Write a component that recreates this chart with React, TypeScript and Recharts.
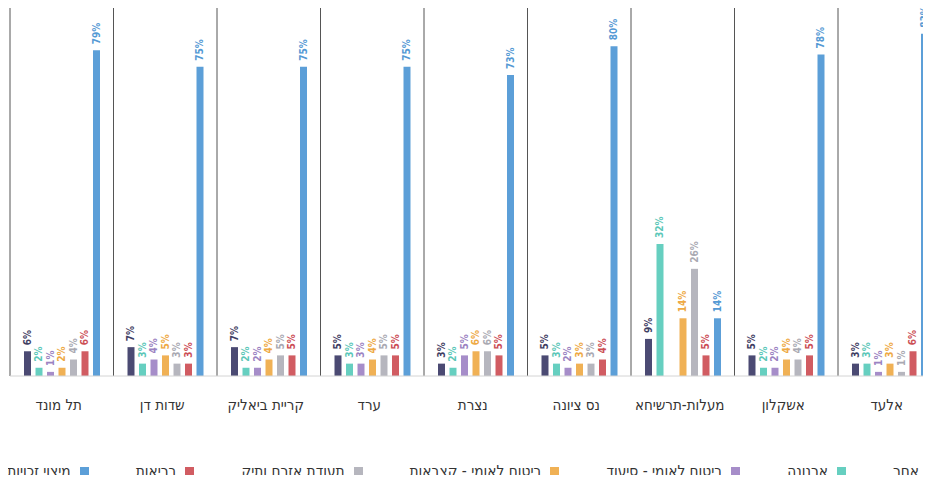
import React from 'react';
import { BarChart, Bar, XAxis, YAxis, CartesianGrid, LabelList } from 'recharts';

const cities = ['תל מונד', 'שדות דן', 'קריית ביאליק', 'ערד', 'נצרת', 'נס ציונה', 'מעלות-תרשיחא', 'אשקלון', 'אלעד'];
const other = [6, 7, 7, 5, 3, 5, 9, 5, 3];
const arnona = [2, 3, 2, 3, 2, 3, 32, 2, 3];
const siud = [1, 4, 2, 3, 5, 2, 0, 2, 1];
const kitzbaot = [2, 5, 4, 4, 6, 3, 14, 4, 3];
const vatik = [4, 3, 5, 5, 6, 3, 26, 4, 1];
const health = [6, 3, 5, 5, 5, 4, 5, 5, 6];
const rights = [79, 75, 75, 75, 73, 80, 14, 78, 83];

const seriesNames = ['אחר', 'ארנונה', 'ביטוח לאומי - סיעוד', 'ביטוח לאומי - קצבאות', 'תעודת אזרח ותיק', 'בריאות', 'מיצוי זכויות'];
const seriesKeys = ['other', 'arnona', 'siud', 'kitzbaot', 'vatik', 'health', 'rights'];
const seriesColors = ['#4b4a73', '#66cfc0', '#a68dc9', '#f0b155', '#b6b6be', '#d15c62', '#5c9fd8'];
const labelColors = ['#3f3e63', '#5cc7b8', '#9b83c2', '#eea944', '#a9a9b2', '#cc4f56', '#5499d4'];

const seriesValues = [other, arnona, siud, kitzbaot, vatik, health, rights];

const data = cities.map((city, i) => {
  const row: Record<string, string | number> = { city };
  seriesKeys.forEach((k, s) => {
    row[k] = seriesValues[s][i];
  });
  return row;
});

const LABEL_FONT = '"DejaVu Sans Condensed", "DejaVu Sans", sans-serif';
const HEB_FONT = '"DejaVu Sans Condensed", "DejaVu Sans", sans-serif';

const makeLabel = (color: string) => (props: any) => {
  const { x, y, width, value } = props;
  const cx = Number(x) + Number(width) / 2;
  const ty = Number(y) - 6;
  return (
    <text
      x={cx}
      y={ty}
      transform={`rotate(-90, ${cx}, ${ty})`}
      textAnchor="start"
      dominantBaseline="central"
      fill={color}
      fontFamily={LABEL_FONT}
      fontWeight="bold"
      fontSize={10}
    >
      {`${value}%`}
    </text>
  );
};

const CityTick = (props: any) => {
  const { x, y, payload } = props;
  return (
    <text
      x={Number(x) - 3}
      y={Number(y)}
      dy={29}
      textAnchor="middle"
      dominantBaseline="central"
      fill="#333"
      fontFamily={HEB_FONT}
      fontSize={15}
      direction="rtl"
    >
      {payload.value}
    </text>
  );
};

const PLOT_LEFT = 10;
const GROUP_W = 103.5;
const CHART_W = 960;

export default function App() {
  return (
    <div style={{ position: 'relative', width: 931, height: 483, overflow: 'hidden', margin: -8, background: '#fff' }}>
      <BarChart
        width={CHART_W}
        height={483}
        data={data}
        margin={{ top: 5, left: PLOT_LEFT, right: CHART_W - PLOT_LEFT - GROUP_W * cities.length, bottom: 77 }}
        barSize={7}
        barGap={4.5}
      >
        <CartesianGrid
          horizontal={false}
          vertical
          stroke="#555"
          verticalCoordinatesGenerator={({ offset }: any) =>
            cities.map((_, i) => offset.left + (i * offset.width) / cities.length)
          }
        />
        <XAxis
          dataKey="city"
          interval={0}
          tickLine={false}
          tickSize={0}
          tickMargin={0}
          height={30}
          axisLine={{ stroke: '#d4d4d4' }}
          tick={<CityTick />}
        />
        <YAxis hide domain={[0, 90]} />
        {seriesKeys.map((k, s) => (
          <Bar key={k} dataKey={k} name={seriesNames[s]} fill={seriesColors[s]} isAnimationActive={false}>
            <LabelList dataKey={k} content={makeLabel(labelColors[s])} />
          </Bar>
        ))}
      </BarChart>
      <div
        style={{
          position: 'absolute',
          top: 462,
          right: -6,
          display: 'flex',
          direction: 'rtl',
          alignItems: 'center',
          gap: 47,
          fontFamily: HEB_FONT,
          fontSize: 15.3,
          lineHeight: '18px',
          color: '#333',
          whiteSpace: 'nowrap',
        }}
      >
        {seriesNames.map((n, s) => (
          <div key={n} style={{ display: 'flex', alignItems: 'center' }}>
            <span style={{ display: 'inline-block', width: 9, height: 9, background: seriesColors[s], marginLeft: 9 }} />
            <span>{n}</span>
          </div>
        ))}
      </div>
    </div>
  );
}
